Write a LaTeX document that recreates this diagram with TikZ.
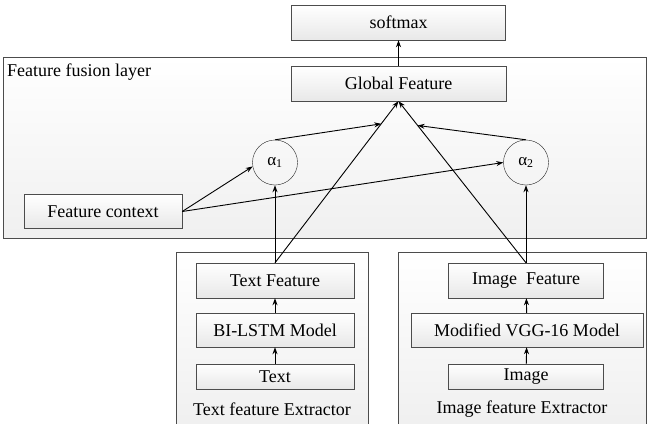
\documentclass[tikz,border=0pt]{standalone}
\usepackage{fontspec}
\setmainfont{Liberation Serif}
\usetikzlibrary{arrows.meta,calc}
\tikzset{
    box/.style={draw=black!70, top color=white, bottom color=black!9, minimum height=35pt,
        inner sep=0pt, font=\fontsize{18}{20}\selectfont},
    layer/.style={draw=black!70, top color=white, bottom color=black!6, inner sep=0pt},
    attn/.style={draw=black!85, circle, minimum size=45pt, inner sep=0pt,
        font=\fontsize{17}{20}\selectfont},
    tag/.style={inner sep=0pt, font=\fontsize{18}{20}\selectfont},
    arr/.style={-{Stealth[length=7pt,width=5pt]}, line width=0.9pt}
}
\begin{document}
\begin{tikzpicture}[x=1pt,y=-1pt]
    \useasboundingbox (0,0) rectangle (647,423);
    % layers
    \node[layer, minimum width=643pt, minimum height=181pt] (fusion) at (324.5,147.5) {};
    \node[tag, anchor=west] (fusionlbl) at (7,72) {Feature fusion layer};
    \node[layer, minimum width=192pt, minimum height=172pt] (textext) at (272,338) {};
    \node[layer, minimum width=248pt, minimum height=172pt] (imgext) at (522,338) {};
    \node[tag] (textextlbl) at (272,409) {Text feature Extractor};
    \node[tag] (imgextlbl) at (522,409) {Image feature Extractor};

    % boxes
    \node[box, minimum width=214pt] (softmax) at (398.5,22.5) {softmax};
    \node[box, minimum width=215pt] (gf) at (398.5,83.5) {Global Feature};
    \node[box, minimum width=158pt, minimum height=34pt] (fc) at (103,211.5) {Feature context};
    \node[attn] (a1) at (275,162.5) {α\textsubscript{1}};
    \node[attn] (a2) at (526,162.5) {α\textsubscript{2}};

    \node[box, minimum width=158pt] (tf) at (275,280.5) {Text Feature};
    \node[box, minimum width=158pt, minimum height=34pt] (lstm) at (275,330) {BI-LSTM Model};
    \node[box, minimum width=158pt, minimum height=25pt] (txt) at (275,376.5) {Text};

    \node[box, minimum width=155pt] (if) at (526,280.5) {Image~ Feature};
    \node[box, minimum width=232pt, minimum height=34pt] (vgg) at (527,330) {Modified VGG-16 Model};
    \node[box, minimum width=155pt, minimum height=25pt] (img) at (526,376.5) {Image};

    % connectors
    \coordinate (m1) at ($(tf.north)!0.86!(gf.south)$);
    \coordinate (m2) at ($(if.north)!0.85!(gf.south)$);

    \draw[arr] (gf) -- (softmax);
    \draw[arr] (txt) -- (lstm);
    \draw[arr] (lstm) -- (tf);
    \draw[arr] (img) -- (vgg);
    \draw[arr] (vgg) -- (if);
    \draw[arr] (tf) -- (a1);
    \draw[arr] (if) -- (a2);
    \draw[arr] (tf.north) -- (gf.south);
    \draw[arr] (if.north) -- (gf.south);
    \draw[arr] (a1.north) -- (m1);
    \draw[arr] (a2.north) -- (m2);
    \draw[arr] (fc.east) -- (a1.190);
    \draw[arr] (fc.east) -- (a2.west);
\end{tikzpicture}
\end{document}
